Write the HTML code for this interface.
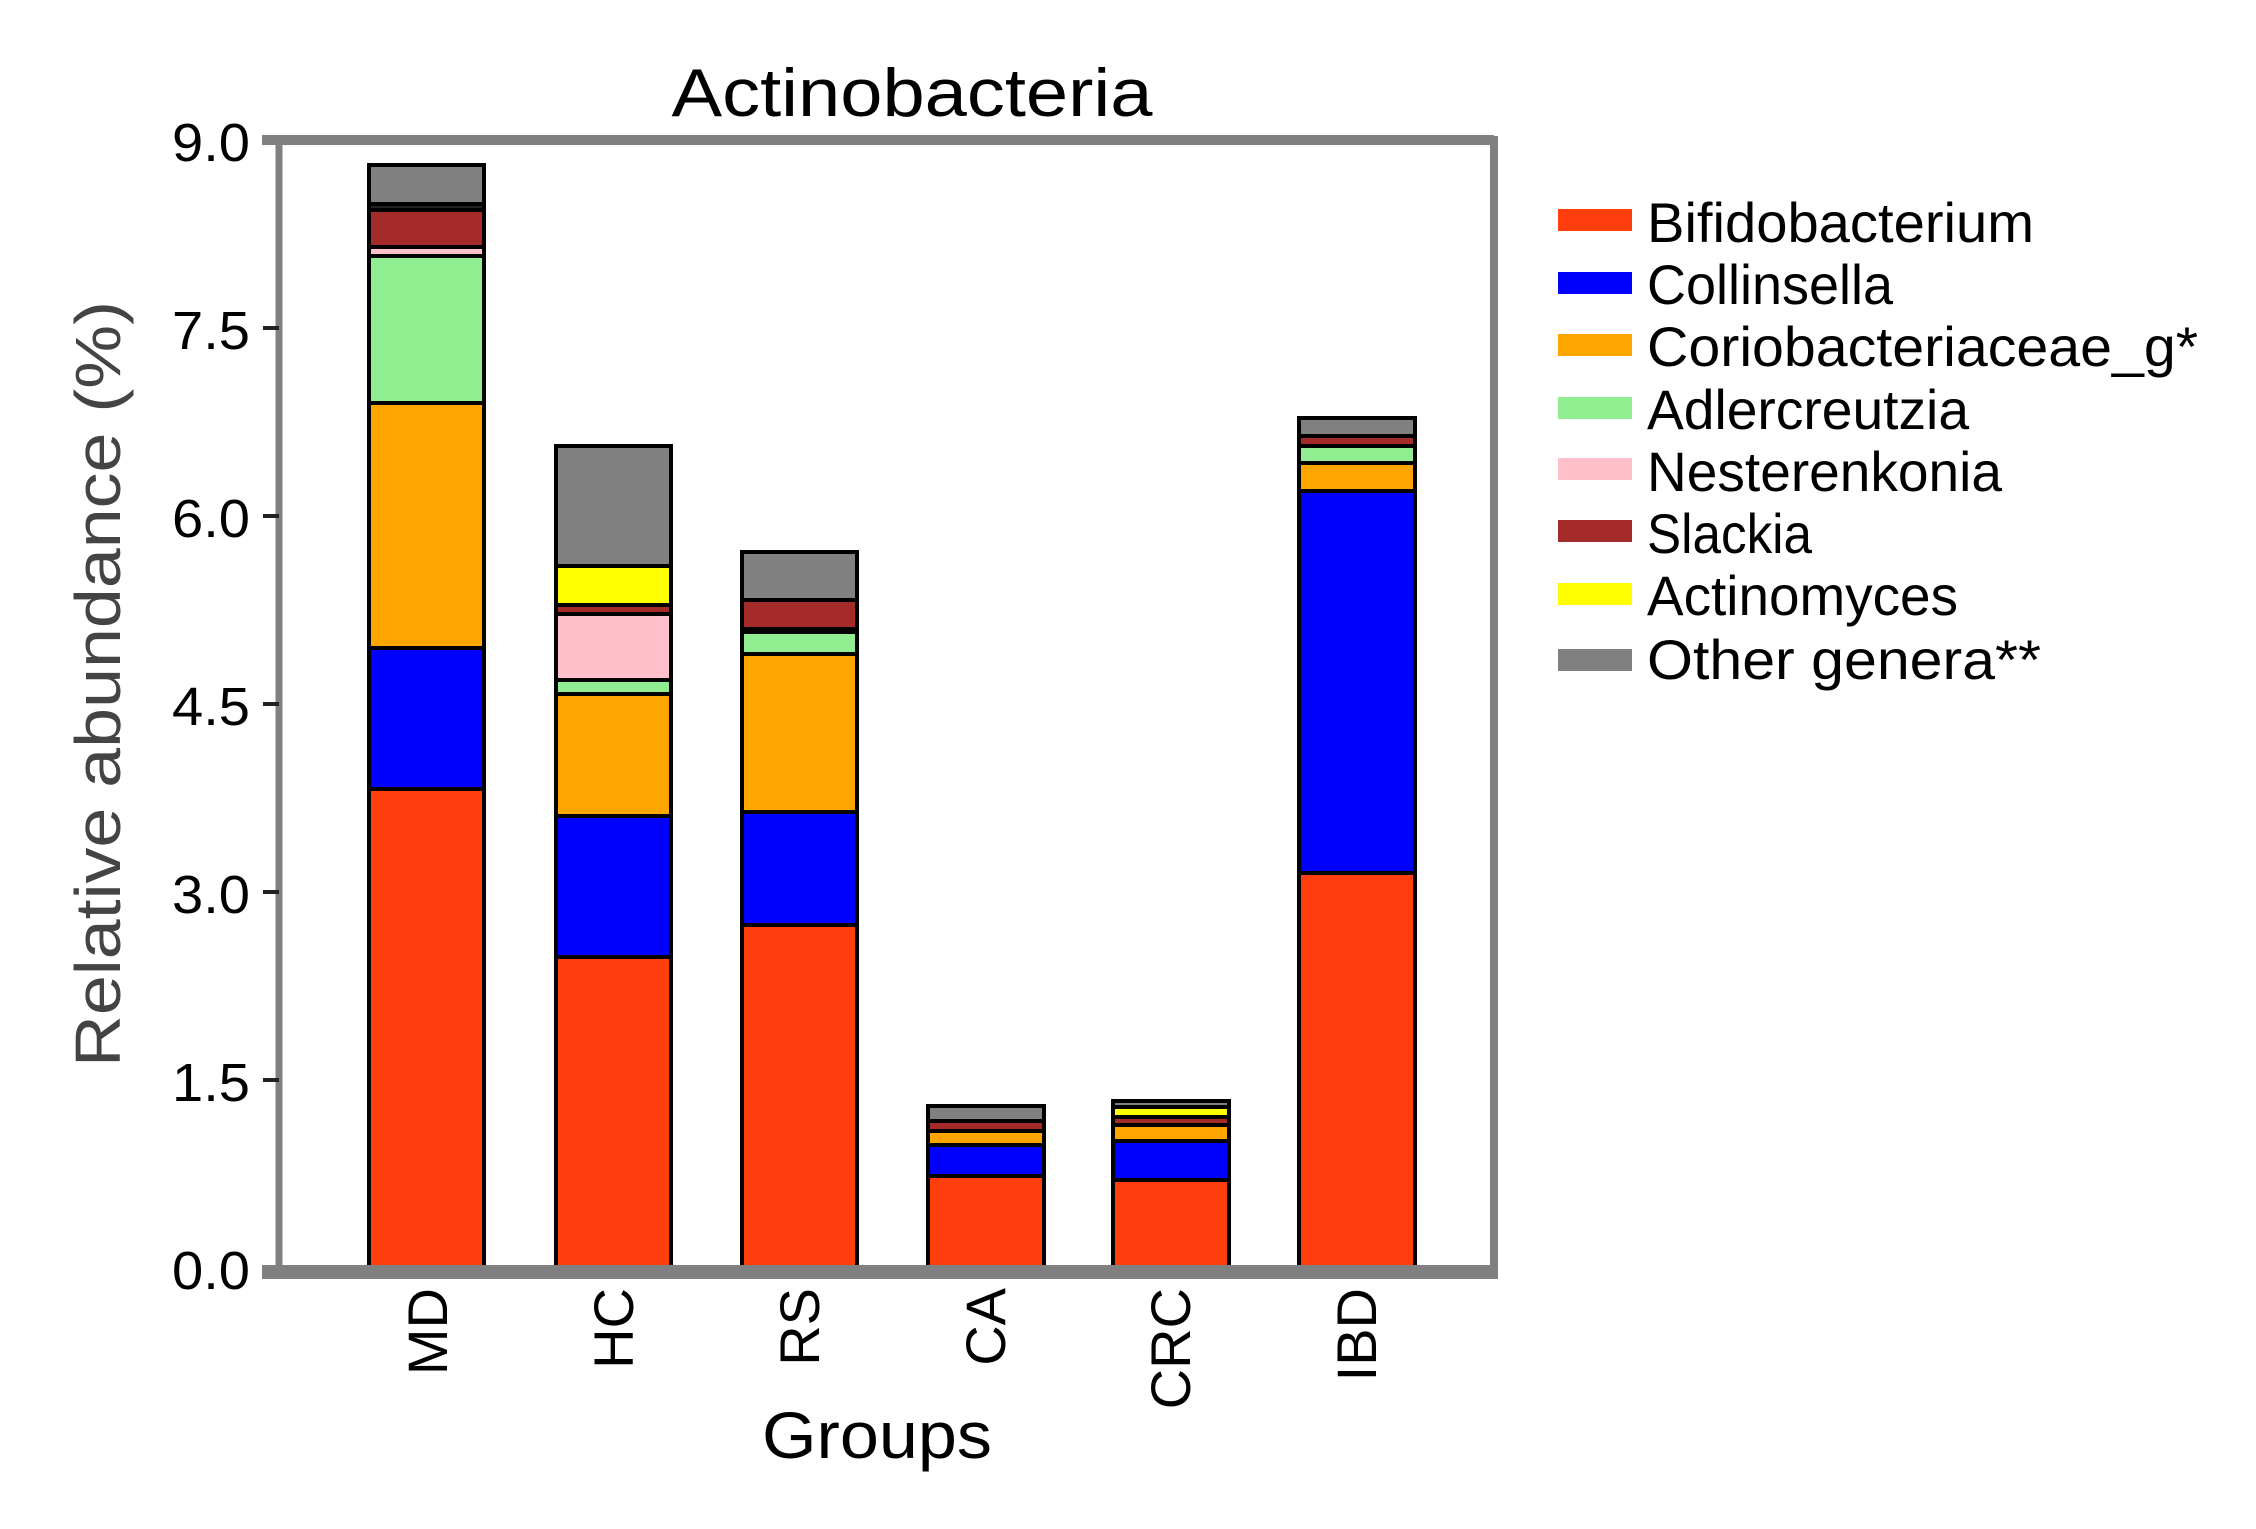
<!DOCTYPE html>
<html><head><meta charset="utf-8"><style>
html,body{margin:0;padding:0;background:#fff;}
svg{display:block;font-family:"Liberation Sans Narrow","Liberation Sans",sans-serif;}
</style></head><body>
<svg width="2256" height="1529" viewBox="0 0 2256 1529" xmlns="http://www.w3.org/2000/svg">
<rect width="2256" height="1529" fill="#fff"/>
<text x="912" y="116" font-size="68" text-anchor="middle" textLength="481" lengthAdjust="spacingAndGlyphs">Actinobacteria</text>
<g id="bars" stroke="#000" stroke-width="4">
<!-- MD -->
<rect x="369" y="789" width="115" height="479" fill="#ff3d0d"/>
<rect x="369" y="648" width="115" height="141" fill="#0000ff"/>
<rect x="369" y="403" width="115" height="245" fill="#ffa500"/>
<rect x="369" y="256" width="115" height="147" fill="#90ee90"/>
<rect x="369" y="247" width="115" height="9" fill="#ffc0cb"/>
<rect x="369" y="210" width="115" height="37" fill="#a52a2a"/>
<rect x="369" y="204" width="115" height="6" fill="#222"/>
<rect x="369" y="165" width="115" height="39" fill="#808080"/>
<!-- HC -->
<rect x="556" y="957" width="115" height="311" fill="#ff3d0d"/>
<rect x="556" y="816" width="115" height="141" fill="#0000ff"/>
<rect x="556" y="694" width="115" height="122" fill="#ffa500"/>
<rect x="556" y="680" width="115" height="14" fill="#90ee90"/>
<rect x="556" y="614" width="115" height="66" fill="#ffc0cb"/>
<rect x="556" y="605" width="115" height="9" fill="#a52a2a"/>
<rect x="556" y="566" width="115" height="39" fill="#ffff00"/>
<rect x="556" y="446" width="115" height="120" fill="#808080"/>
<!-- RS -->
<rect x="742" y="925" width="115" height="343" fill="#ff3d0d"/>
<rect x="742" y="812" width="115" height="113" fill="#0000ff"/>
<rect x="742" y="654" width="115" height="158" fill="#ffa500"/>
<rect x="742" y="632" width="115" height="22" fill="#90ee90"/>
<rect x="742" y="629" width="115" height="3" fill="#ffc0cb"/>
<rect x="742" y="600" width="115" height="29" fill="#a52a2a"/>
<rect x="742" y="552" width="115" height="48" fill="#808080"/>
<!-- CA -->
<rect x="928" y="1176" width="116" height="92" fill="#ff3d0d"/>
<rect x="928" y="1145" width="116" height="31" fill="#0000ff"/>
<rect x="928" y="1131" width="116" height="14" fill="#ffa500"/>
<rect x="928" y="1121" width="116" height="10" fill="#a52a2a"/>
<rect x="928" y="1106" width="116" height="15" fill="#808080"/>
<!-- CRC -->
<rect x="1113" y="1180" width="116" height="88" fill="#ff3d0d"/>
<rect x="1113" y="1141" width="116" height="39" fill="#0000ff"/>
<rect x="1113" y="1125" width="116" height="16" fill="#ffa500"/>
<rect x="1113" y="1117" width="116" height="8" fill="#a52a2a"/>
<rect x="1113" y="1107" width="116" height="10" fill="#ffff00"/>
<rect x="1113" y="1101" width="116" height="6" fill="#808080"/>
<!-- IBD -->
<rect x="1299" y="873" width="116" height="395" fill="#ff3d0d"/>
<rect x="1299" y="491" width="116" height="382" fill="#0000ff"/>
<rect x="1299" y="463" width="116" height="28" fill="#ffa500"/>
<rect x="1299" y="446" width="116" height="17" fill="#90ee90"/>
<rect x="1299" y="436" width="116" height="10" fill="#a52a2a"/>
<rect x="1299" y="418" width="116" height="18" fill="#808080"/>
</g>
<!-- frame -->
<g stroke="#808080" fill="none">
<line x1="279" y1="140" x2="279" y2="1272" stroke-width="7"/>
<line x1="262" y1="140" x2="1494" y2="140" stroke-width="10"/>
<line x1="1494" y1="136" x2="1494" y2="1279" stroke-width="8"/>
<line x1="262" y1="1272" x2="1498" y2="1272" stroke-width="14"/>
</g>
<g stroke="#222" stroke-width="4">
<line x1="263" y1="328" x2="279" y2="328"/>
<line x1="263" y1="516" x2="279" y2="516"/>
<line x1="263" y1="704" x2="279" y2="704"/>
<line x1="263" y1="892" x2="279" y2="892"/>
<line x1="263" y1="1080" x2="279" y2="1080"/>
</g>
<g font-size="54" text-anchor="end">
<text x="250" y="161" textLength="78" lengthAdjust="spacingAndGlyphs">9.0</text>
<text x="250" y="349" textLength="78" lengthAdjust="spacingAndGlyphs">7.5</text>
<text x="250" y="537" textLength="78" lengthAdjust="spacingAndGlyphs">6.0</text>
<text x="250" y="725" textLength="78" lengthAdjust="spacingAndGlyphs">4.5</text>
<text x="250" y="913" textLength="78" lengthAdjust="spacingAndGlyphs">3.0</text>
<text x="250" y="1101" textLength="78" lengthAdjust="spacingAndGlyphs">1.5</text>
<text x="250" y="1289" textLength="78" lengthAdjust="spacingAndGlyphs">0.0</text>
</g>
<text transform="translate(120,684) rotate(-90)" font-size="64" fill="#444" text-anchor="middle" textLength="766" lengthAdjust="spacingAndGlyphs">Relative abundance (%)</text>
<g font-size="56" text-anchor="end">
<text transform="translate(447,1288) rotate(-90)">MD</text>
<text transform="translate(633,1288) rotate(-90)">HC</text>
<text transform="translate(819,1288) rotate(-90)">RS</text>
<text transform="translate(1005,1288) rotate(-90)">CA</text>
<text transform="translate(1190,1288) rotate(-90)">CRC</text>
<text transform="translate(1376,1288) rotate(-90)">IBD</text>
</g>
<text x="877" y="1458" font-size="66" text-anchor="middle" textLength="230" lengthAdjust="spacingAndGlyphs">Groups</text>
<!-- legend -->
<g>
<rect x="1558" y="209" width="74" height="22" fill="#ff3d0d"/>
<rect x="1558" y="272" width="74" height="22" fill="#0000ff"/>
<rect x="1558" y="334" width="74" height="22" fill="#ffa500"/>
<rect x="1558" y="397" width="74" height="22" fill="#90ee90"/>
<rect x="1558" y="458" width="74" height="22" fill="#ffc0cb"/>
<rect x="1558" y="520" width="74" height="22" fill="#a52a2a"/>
<rect x="1558" y="583" width="74" height="22" fill="#ffff00"/>
<rect x="1558" y="649" width="74" height="22" fill="#808080"/>
</g>
<g font-size="56">
<text x="1647" y="242" textLength="387" lengthAdjust="spacingAndGlyphs">Bifidobacterium</text>
<text x="1647" y="304" textLength="246" lengthAdjust="spacingAndGlyphs">Collinsella</text>
<text x="1647" y="366" textLength="551" lengthAdjust="spacingAndGlyphs">Coriobacteriaceae_g*</text>
<text x="1647" y="429" textLength="322" lengthAdjust="spacingAndGlyphs">Adlercreutzia</text>
<text x="1647" y="491" textLength="355" lengthAdjust="spacingAndGlyphs">Nesterenkonia</text>
<text x="1647" y="553" textLength="165" lengthAdjust="spacingAndGlyphs">Slackia</text>
<text x="1647" y="615" textLength="311" lengthAdjust="spacingAndGlyphs">Actinomyces</text>
<text x="1647" y="679" textLength="394" lengthAdjust="spacingAndGlyphs">Other genera**</text>
</g>
</svg>
</body></html>
